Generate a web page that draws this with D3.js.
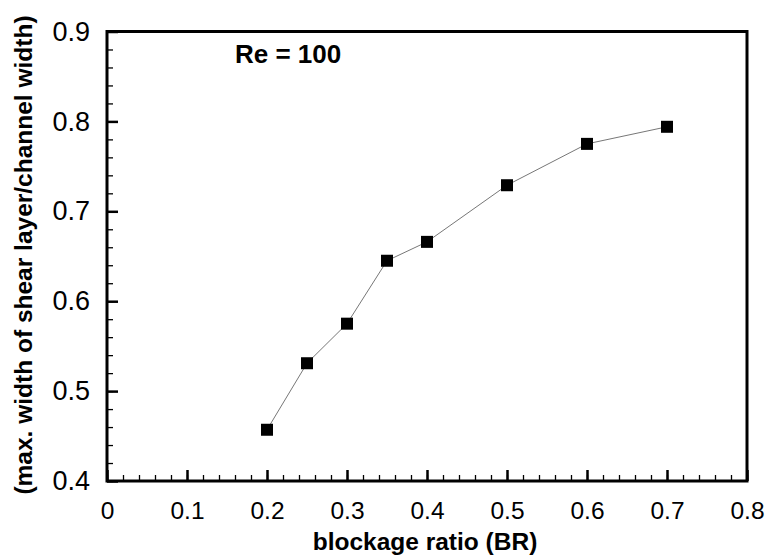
<!DOCTYPE html>
<html>
<head>
<meta charset="utf-8">
<script src="https://cdn.jsdelivr.net/npm/d3@7"></script>
<style>
  body { margin: 0; background: #fff; }
  svg text { font-family: "Liberation Sans", Arial, Helvetica, sans-serif; }
</style>
</head>
<body>
<svg width="767" height="557"></svg>
<script>
// blockage ratio vs max. width of shear layer, Re = 100
const blockage = [0.2, 0.25, 0.3, 0.35, 0.4, 0.5, 0.6, 0.7];
const shearWidth = [0.457, 0.531, 0.575, 0.645, 0.666, 0.729, 0.775, 0.794];
const xTicks = [0, 0.1, 0.2, 0.3, 0.4, 0.5, 0.6, 0.7, 0.8];
const yTicks = [0.4, 0.5, 0.6, 0.7, 0.8, 0.9];

var plotL = 107, plotR = 747, plotT = 31.5, plotB = 481;
var svg = d3.select("svg");

var x = d3.scaleLinear().domain([0, 0.8]).range([plotL, plotR]);
var y = d3.scaleLinear().domain([0.4, 0.9]).range([plotB, plotT]);

var xMinor = d3.range(0, 0.8001, 0.02);
var yMinor = d3.range(0.4, 0.9001, 0.02);

// minor ticks
svg.append("g")
  .attr("transform", "translate(0," + plotB + ")")
  .call(d3.axisBottom(x).tickValues(xMinor).tickSize(-6).tickFormat(""))
  .call(g => g.select(".domain").remove())
  .selectAll("line").attr("stroke", "#000").attr("stroke-width", 1.3);
svg.append("g")
  .attr("transform", "translate(" + plotL + ",0)")
  .call(d3.axisLeft(y).tickValues(yMinor).tickSize(-6).tickFormat(""))
  .call(g => g.select(".domain").remove())
  .selectAll("line").attr("stroke", "#000").attr("stroke-width", 1.3);

// major ticks + labels
var gx = svg.append("g")
  .attr("transform", "translate(0," + plotB + ")")
  .call(d3.axisBottom(x).tickValues(xTicks).tickSize(-11).tickPadding(21).tickFormat(d3.format("~g")));
gx.select(".domain").remove();
gx.selectAll("line").attr("stroke", "#000").attr("stroke-width", 2.5);
gx.selectAll("text").attr("font-size", 24.5).attr("fill", "#000");

var gy = svg.append("g")
  .attr("transform", "translate(" + plotL + ",0)")
  .call(d3.axisLeft(y).tickValues(yTicks).tickSize(-11).tickPadding(17).tickFormat(d3.format(".1f")));
gy.select(".domain").remove();
gy.selectAll("line").attr("stroke", "#000").attr("stroke-width", 2.5);
gy.selectAll("text").attr("font-size", 27).attr("fill", "#000");

// frame
svg.append("rect")
  .attr("x", plotL).attr("y", plotT)
  .attr("width", plotR - plotL).attr("height", plotB - plotT)
  .attr("fill", "none").attr("stroke", "#000").attr("stroke-width", 3);

// data line and markers
var pts = blockage.map((b, i) => [b, shearWidth[i]]);
svg.append("path")
  .datum(pts)
  .attr("fill", "none")
  .attr("stroke", "#777")
  .attr("stroke-width", 1)
  .attr("d", d3.line().x(d => x(d[0])).y(d => y(d[1])));

svg.selectAll("rect.pt").data(pts).enter().append("rect")
  .attr("class", "pt")
  .attr("x", d => x(d[0]) - 6)
  .attr("y", d => y(d[1]) - 6)
  .attr("width", 12).attr("height", 12)
  .attr("fill", "#000");

// labels
svg.append("text")
  .attr("x", 235).attr("y", 63)
  .attr("font-size", 26).attr("font-weight", "bold")
  .text("Re = 100");

svg.append("text")
  .attr("x", 425).attr("y", 550)
  .attr("text-anchor", "middle")
  .attr("font-size", 24.5).attr("font-weight", "bold")
  .text("blockage ratio (BR)");

svg.append("text")
  .attr("transform", "translate(32,255) rotate(-90)")
  .attr("text-anchor", "middle")
  .attr("font-size", 24.5).attr("font-weight", "bold")
  .text("(max. width of shear layer/channel width)");
</script>
</body>
</html>
